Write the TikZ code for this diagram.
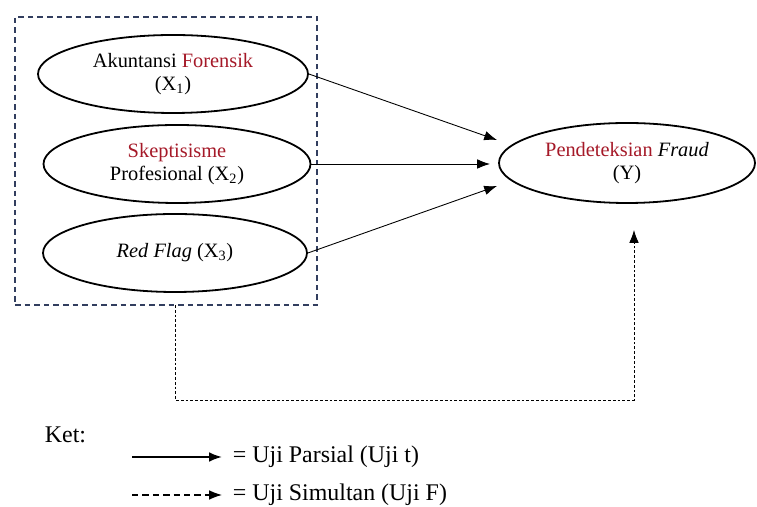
\documentclass[tikz,border=0pt]{standalone}
\usepackage{fontspec}
\setmainfont{Liberation Serif}
\usetikzlibrary{shapes.geometric,arrows.meta,fit}
\definecolor{r165g25b40}{RGB}{165,25,40}
\definecolor{r50g62b95}{RGB}{50,62,95}
\begin{document}
\begin{tikzpicture}[
    varnode/.style={ellipse, draw, line width=0.045cm, inner sep=0pt,
      align=center, font=\fontsize{14.5}{16}\selectfont},
    partial/.style={line width=0.022cm, -{Latex[length=0.32cm,width=0.24cm]}},
    simult/.style={line width=0.022cm, dash pattern=on 0.1cm off 0.07cm,
      -{Latex[length=0.32cm,width=0.24cm]}},
    legtext/.style={anchor=west, font=\fontsize{17}{19}\selectfont}]
    \useasboundingbox (0.000000,0.000000) rectangle (18.925000,12.675000);

    % Drawing independent variables X1 X2 X3
    \node [varnode, minimum width=6.750000cm, minimum height=1.950000cm] (x1) at (4.325000,10.825000)
      {Akuntansi \textcolor{r165g25b40}{Forensik}\\(X\textsubscript{1})};
    \node [varnode, minimum width=6.675000cm, minimum height=1.950000cm] (x2) at (4.425000,8.575000)
      {\textcolor{r165g25b40}{Skeptisisme}\\Profesional (X\textsubscript{2})};
    \node [varnode, minimum width=6.600000cm, minimum height=1.950000cm] (x3) at (4.375000,6.350000)
      {\textit{Red Flag} (X\textsubscript{3})};

    % Drawing dependent variable Y
    \node [varnode, minimum width=6.400000cm, minimum height=2.000000cm] (y) at (15.675000,8.600000)
      {\textcolor{r165g25b40}{Pendeteksian} \textit{Fraud}\\(Y)};

    % Drawing dashed group box
    \node [draw=r50g62b95, line width=0.04cm, dash pattern=on 0.14cm off 0.1cm,
      inner xsep=0.000000cm, fit=(x1)(x2)(x3), inner ysep=0.200000cm,
      minimum width=7.550000cm, minimum height=7.200000cm] (grp) at (4.150000,8.650000) {};

    % Arrow tips before Y
    \coordinate (t1) at (12.425000,9.175000);
    \coordinate (t2) at (12.250000,8.575000);
    \coordinate (t3) at (12.425000,8.025000);

    % Drawing partial arrows
    \draw [partial] (x1.east) -- (t1);
    \draw [partial] (x2.east) -- (t2);
    \draw [partial] (x3.east) -- (t3);

    % Drawing simultaneous arrow
    \coordinate (s0) at (4.375000,5.050000);
    \coordinate (s1) at (15.850000,6.925000);
    \draw [simult, dash pattern=on 0.07cm off 0.05cm] (s0) -- (4.375000,2.675000) -| (s1);

    % Drawing legend
    \node [legtext] (ket) at (1.000000,1.800000) {Ket:};
    \coordinate (la) at (3.300000,1.250000);
    \coordinate (lb) at (5.550000,1.250000);
    \coordinate (lc) at (3.300000,0.300000);
    \coordinate (ld) at (5.550000,0.300000);
    \draw [partial, line width=0.045cm] (la) -- (lb);
    \draw [simult, line width=0.03cm, dash pattern=on 0.16cm off 0.1cm] (lc) -- (ld);
    \node [legtext] (lp) at (5.700000,1.250000) {= Uji Parsial (Uji t)};
    \node [legtext] (ls) at (5.700000,0.300000) {= Uji Simultan (Uji F)};
\end{tikzpicture}
\end{document}
